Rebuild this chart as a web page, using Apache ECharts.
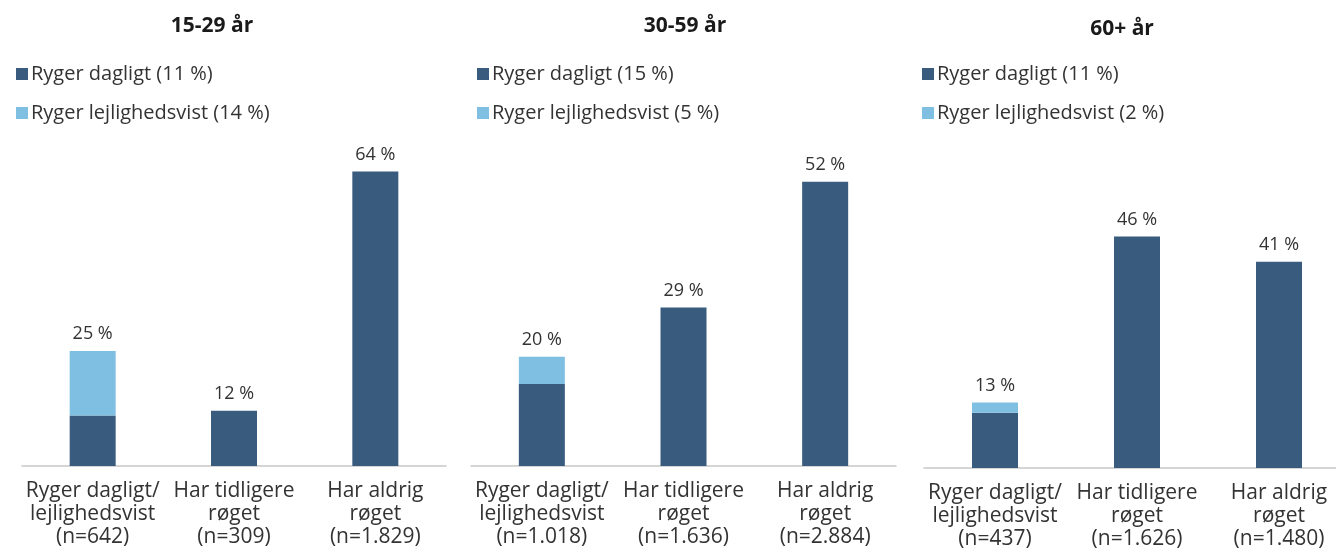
<!DOCTYPE html>
<html>
<head>
<meta charset="utf-8">
<script src="https://cdn.jsdelivr.net/npm/echarts@6/dist/echarts.min.js"></script>
<style>
html,body{margin:0;padding:0;background:#fff;}
#c{width:1336px;height:551px;}
</style>
</head>
<body>
<div id="c"></div>
<script>
const panelTitles = ['15-29 år', '30-59 år', '60+ år'];
const categories = [
  ['Ryger dagligt/\nlejlighedsvist\n(n=642)', 'Har tidligere\nrøget\n(n=309)', 'Har aldrig\nrøget\n(n=1.829)'],
  ['Ryger dagligt/\nlejlighedsvist\n(n=1.018)', 'Har tidligere\nrøget\n(n=1.636)', 'Har aldrig\nrøget\n(n=2.884)'],
  ['Ryger dagligt/\nlejlighedsvist\n(n=437)', 'Har tidligere\nrøget\n(n=1.626)', 'Har aldrig\nrøget\n(n=1.480)']
];
const dailyNames = ['Ryger dagligt (11 %)', 'Ryger dagligt (15 %)', 'Ryger dagligt (11 %)'];
const occNames = ['Ryger lejlighedsvist (14 %)', 'Ryger lejlighedsvist (5 %)', 'Ryger lejlighedsvist (2 %)'];
const dailyValues = [[11, 12, 64], [15, 29, 52], [11, 46, 41]];
const occValues = [[14, null, null], [5, null, null], [2, null, null]];
const totalValues = [[25, 12, 64], [20, 29, 52], [13, 46, 41]];
const yMax = [70, 60, 60];

const DARK = '#385b7e';
const LIGHT = '#7fc0e2';
const FONT = '"Open Sans", Lato, sans-serif';

const grids = [
  {left: 22, width: 424, top: 144, height: 322},
  {left: 471, width: 425, top: 138, height: 328},
  {left: 924, width: 426, top: 166, height: 302}
];
const titleX = [207, 680, 1117];
const titleY = [11, 11, 14];
const legendX = [11, 472, 917];

const option = {
  animation: false,
  backgroundColor: '#ffffff',
  title: panelTitles.map((t, i) => ({
    text: t, left: titleX[i], top: titleY[i], textAlign: 'center',
    textStyle: {fontFamily: FONT, fontSize: 21, fontWeight: 'bold', color: '#1a1a1a'}
  })),
  legend: [0, 1, 2].map(i => ({
    orient: 'vertical', left: legendX[i], top: 59, itemGap: 19,
    itemWidth: 12, itemHeight: 12, icon: 'rect',
    data: [dailyNames[i], occNames[i]],
    textStyle: {fontFamily: FONT, fontSize: 20, color: '#333', padding: [0, 0, 0, -2]},
    selectedMode: false
  })),
  grid: grids.map(g => Object.assign({outerBoundsMode: 'none', containLabel: false}, g)),
  xAxis: [0, 1, 2].map(i => ({
    type: 'category', gridIndex: i, data: categories[i],
    axisLine: {lineStyle: {color: '#c8c8c8', width: 1.5}},
    axisTick: {show: false},
    axisLabel: {interval: 0, fontFamily: FONT, fontSize: 21, color: '#333', lineHeight: 23, margin: 14}
  })),
  yAxis: [0, 1, 2].map(i => ({
    type: 'value', gridIndex: i, min: 0, max: yMax[i], show: false, splitLine: {show: false}
  })),
  series: []
};

for (let i = 0; i < 3; i++) {
  const lbl = (show, idx) => ({
    show: show, position: 'top', distance: 8,
    fontFamily: FONT, fontSize: 18, color: '#333',
    formatter: () => totalValues[i][idx] + ' %'
  });
  option.series.push({
    name: dailyNames[i], type: 'bar', stack: 's' + i,
    xAxisIndex: i, yAxisIndex: i, barWidth: 46,
    itemStyle: {color: DARK},
    data: dailyValues[i].map((v, idx) => ({
      value: v, label: lbl(occValues[i][idx] == null, idx)
    }))
  });
  option.series.push({
    name: occNames[i], type: 'bar', stack: 's' + i,
    xAxisIndex: i, yAxisIndex: i, barWidth: 46,
    itemStyle: {color: LIGHT},
    data: occValues[i].map((v, idx) => ({
      value: v == null ? '-' : v, label: lbl(v != null, idx)
    }))
  });
}

const chart = echarts.init(document.getElementById('c'), null, {renderer: 'canvas'});
chart.setOption(option);
</script>
</body>
</html>
